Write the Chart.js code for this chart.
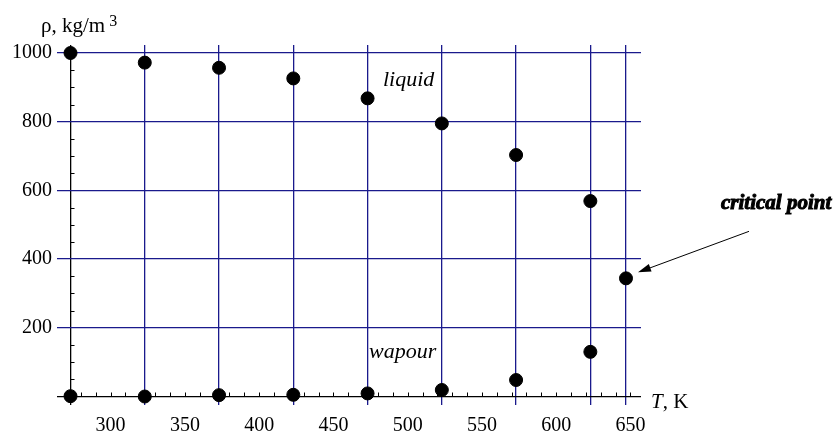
<!DOCTYPE html>
<html>
<head>
<meta charset="utf-8">
<script src="https://cdn.jsdelivr.net/npm/chart.js@4.4.0/dist/chart.umd.min.js"></script>
<style>
    html, body { margin: 0; padding: 0; background: #fff; }
    #wrap { width: 834px; height: 435px; position: relative; }
</style>
</head>
<body>
<div id="wrap"><canvas id="rhoChart"></canvas></div>
<script>
// ===== DATOS =====
const temperaturas = [273, 323, 373, 423, 473, 523, 573, 623, 647];
const densidadLiquido = [1000, 972, 957, 926, 868, 795, 703, 569, 344];
const temperaturasVapor = [273, 323, 373, 423, 473, 523, 573, 623];
const densidadVapor = [1, 0, 4, 5, 9, 19, 48, 130];
const etiquetasX = [300, 350, 400, 450, 500, 550, 600, 650];
const etiquetasY = [0, 200, 400, 600, 800, 1000];

const GRID = '#1a1a8c';
const SERIF = '"Liberation Serif", "Times New Roman", serif';

// Rejilla vertical en las temperaturas medidas + etiquetas cada 50 K
const ticksX = Array.from(new Set([...temperaturas, ...etiquetasX])).sort((a, b) => a - b);

// Marcas menores y textos
const extrasPlugin = {
    id: 'extras',
    beforeDatasetsDraw(chart) {
        const { ctx, scales: { x, y } } = chart;
        const x0 = x.getPixelForValue(273);
        const y0 = y.getPixelForValue(0);
        ctx.save();
        ctx.strokeStyle = '#000';
        ctx.lineWidth = 1;
        ctx.beginPath();
        // marcas menores en X cada 10 K
        for (let t = 280; t <= 650; t += 10) {
            if (temperaturas.includes(t)) continue;
            const px = Math.round(x.getPixelForValue(t)) + 0.5;
            ctx.moveTo(px, y0);
            ctx.lineTo(px, y0 - 4);
        }
        // marcas menores en Y cada 50
        for (let v = 50; v <= 1000; v += 50) {
            if (v % 200 === 0) continue;
            const py = Math.round(y.getPixelForValue(v)) + 0.5;
            ctx.moveTo(x0, py);
            ctx.lineTo(x0 + 4, py);
        }
        ctx.stroke();
        ctx.restore();
    },
    afterDraw(chart) {
        const { ctx, scales: { x, y } } = chart;
        ctx.save();
        ctx.fillStyle = '#000';
        ctx.textBaseline = 'alphabetic';
        ctx.textAlign = 'left';

        // título del eje Y
        ctx.font = `21px ${SERIF}`;
        ctx.fillText('ρ, kg/m', 41, 32);
        const w = ctx.measureText('ρ, kg/m').width;
        ctx.font = `16px ${SERIF}`;
        ctx.fillText('3', 41 + w + 4, 26);

        // título del eje X
        ctx.font = `italic 21px ${SERIF}`;
        ctx.fillText('T', 651, 408);
        const wt = ctx.measureText('T').width;
        ctx.font = `21px ${SERIF}`;
        ctx.fillText(', K', 651 + wt, 408);

        // etiquetas de las curvas
        ctx.font = `italic 22px ${SERIF}`;
        ctx.fillText('liquid', 383, 86);
        ctx.fillText('wapour', 369, 358);

        // punto crítico
        ctx.font = `bold italic 21px ${SERIF}`;
        ctx.lineWidth = 1;
        ctx.strokeStyle = '#000';
        ctx.strokeText('critical point', 721, 209);
        ctx.fillText('critical point', 721, 209);

        // flecha hacia el punto crítico
        const cx = x.getPixelForValue(647);
        const cy = y.getPixelForValue(344);
        const tipX = cx + 12, tipY = cy - 6;
        const tailX = tipX + 111, tailY = tipY - 41;
        const ang = Math.atan2(tipY - tailY, tipX - tailX);
        ctx.lineWidth = 1;
        ctx.beginPath();
        ctx.moveTo(tailX, tailY);
        ctx.lineTo(tipX - 8 * Math.cos(ang), tipY - 8 * Math.sin(ang));
        ctx.stroke();
        ctx.beginPath();
        ctx.moveTo(tipX, tipY);
        ctx.lineTo(tipX - 13 * Math.cos(ang) + 4 * Math.sin(ang), tipY - 13 * Math.sin(ang) - 4 * Math.cos(ang));
        ctx.lineTo(tipX - 13 * Math.cos(ang) - 4 * Math.sin(ang), tipY - 13 * Math.sin(ang) + 4 * Math.cos(ang));
        ctx.closePath();
        ctx.fill();
        ctx.restore();
    }
};

const ctx = document.getElementById('rhoChart').getContext('2d');
new Chart(ctx, {
    type: 'scatter',
    data: {
        datasets: [
            {
                label: 'liquid',
                data: temperaturas.map((t, i) => ({ x: t, y: densidadLiquido[i] })),
                backgroundColor: '#000',
                borderColor: '#000',
                pointRadius: 6.5
            },
            {
                label: 'wapour',
                data: temperaturasVapor.map((t, i) => ({ x: t, y: densidadVapor[i] })),
                backgroundColor: '#000',
                borderColor: '#000',
                pointRadius: 6.5
            }
        ]
    },
    options: {
        responsive: true,
        maintainAspectRatio: false,
        animation: false,
        layout: { padding: { top: 45, right: 193, left: 0, bottom: 0 } },
        plugins: {
            legend: { display: false },
            tooltip: { enabled: false }
        },
        scales: {
            x: {
                type: 'linear',
                min: 263.9,
                max: 657.1,
                afterBuildTicks: (scale) => {
                    scale.ticks = ticksX.map(v => ({ value: v }));
                },
                afterFit: (scale) => { scale.height = 30; },
                border: { display: false },
                grid: {
                    drawTicks: false,
                    lineWidth: 1.3,
                    color: (c) => {
                        const v = c.tick && c.tick.value;
                        if (v === 273) return '#000';
                        return temperaturas.includes(v) ? GRID : 'rgba(0,0,0,0)';
                    }
                },
                ticks: {
                    autoSkip: false,
                    maxRotation: 0,
                    padding: 9,
                    color: '#000',
                    font: { family: SERIF, size: 20 },
                    callback: (v) => etiquetasX.includes(v) ? String(v) : ''
                }
            },
            y: {
                type: 'linear',
                min: -24.7,
                max: 1023.3,
                afterBuildTicks: (scale) => {
                    scale.ticks = etiquetasY.map(v => ({ value: v }));
                },
                afterFit: (scale) => { scale.width = 57; },
                border: { display: false },
                grid: {
                    drawTicks: false,
                    lineWidth: 1.3,
                    color: (c) => (c.tick && c.tick.value === 0) ? '#000' : GRID
                },
                ticks: {
                    padding: 5,
                    color: '#000',
                    font: { family: SERIF, size: 20 },
                    callback: (v) => v === 0 ? '' : String(v)
                }
            }
        }
    },
    plugins: [extrasPlugin]
});
</script>
</body>
</html>
